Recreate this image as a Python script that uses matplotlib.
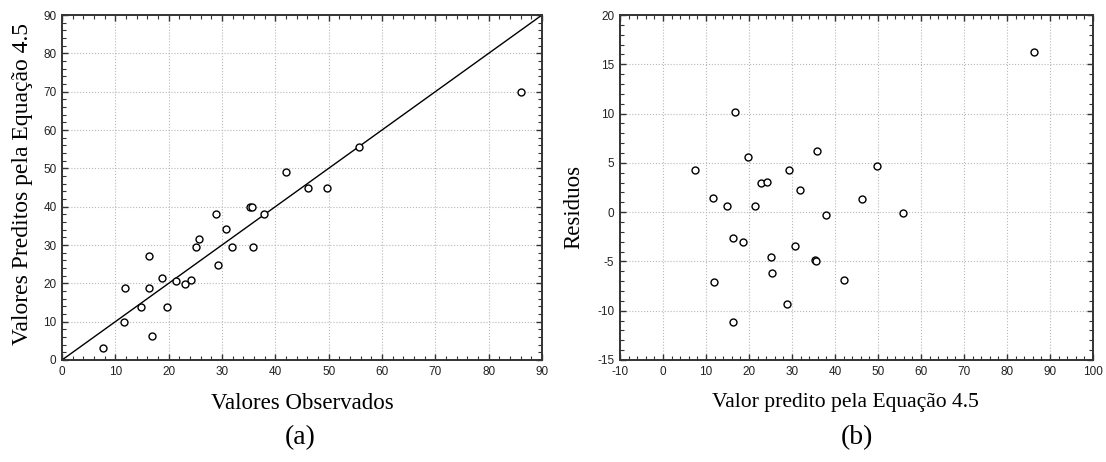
import matplotlib
matplotlib.use("Agg")
import matplotlib.pyplot as plt
from matplotlib.ticker import MultipleLocator

plt.rcParams["axes.unicode_minus"] = False

# (a) observed vs. predicted values
observados = [7.7, 11.6, 11.9, 14.9, 16.4, 16.4, 16.9, 18.8, 19.7, 21.4, 23.1, 24.1,
              25.1, 25.6, 28.8, 29.25, 30.75, 31.9, 35.25, 35.6, 35.8, 37.9, 42.06,
              46.2, 49.7, 55.6, 86.1]
preditos = [3.2, 9.8, 18.7, 13.7, 27.2, 18.7, 6.2, 21.4, 13.8, 20.7, 19.9, 20.8,
            29.4, 31.5, 38.0, 24.8, 34.1, 29.4, 40.0, 40.0, 29.4, 38.0, 49.0,
            45.0, 45.0, 55.6, 69.9]

# (b) residuals
valor_res = [16.8, 7.5, 19.7, 35.7, 49.8, 29.2, 22.9, 24.1, 31.9, 11.6, 14.9, 21.4,
             46.2, 37.9, 55.7, 16.2, 18.6, 30.8, 25.1, 35.4, 35.5, 25.4, 11.9, 42.1,
             28.9, 16.2, 86.2]
residuos = [10.15, 4.27, 5.56, 6.17, 4.71, 4.27, 2.95, 3.09, 2.24, 1.43, 0.58, 0.58,
            1.3, -0.26, -0.12, -2.6, -3.07, -3.44, -4.52, -4.88, -5.0, -6.18, -7.13,
            -6.89, -9.36, -11.1, 16.2]

ident = [0, 90]

fig = plt.figure(figsize=(11.06, 4.62), dpi=100)
ax1 = fig.add_axes([62 / 1106, 1 - 360 / 462, 480 / 1106, 345 / 462])
ax2 = fig.add_axes([620 / 1106, 1 - 360 / 462, 473 / 1106, 345 / 462])

serif = ["Liberation Serif", "DejaVu Serif"]
sans = ["Liberation Sans", "DejaVu Sans"]


def style(ax, xmaj, xmin, ymaj, ymin):
    ax.xaxis.set_major_locator(MultipleLocator(xmaj))
    ax.xaxis.set_minor_locator(MultipleLocator(xmin))
    ax.yaxis.set_major_locator(MultipleLocator(ymaj))
    ax.yaxis.set_minor_locator(MultipleLocator(ymin))
    ax.grid(True, which="major", linestyle=":", color="#b8b8b8", linewidth=0.8)
    ax.set_axisbelow(True)
    ax.tick_params(which="both", direction="in", top=True, right=True,
                   color="#333333")
    ax.tick_params(which="major", length=4, width=1, labelsize=8.5,
                   labelcolor="#222222", pad=4)
    ax.tick_params(which="minor", length=3, width=0.8)
    for lab in ax.get_xticklabels() + ax.get_yticklabels():
        lab.set_family(sans)
    for sp in ax.spines.values():
        sp.set_linewidth(1.4)
        sp.set_color("#333333")


marker_kw = dict(linestyle="none", marker="o", markersize=5, markerfacecolor="white",
                 markeredgecolor="black", markeredgewidth=1.0)

ax1.plot(ident, ident, color="black", linewidth=1.0)
ax1.plot(observados, preditos, **marker_kw)
ax1.set_xlim(0, 90)
ax1.set_ylim(0, 90)
style(ax1, 10, 2, 10, 2)
ax1.set_xlabel("Valores Observados", family=serif, fontsize=16.5)
ax1.xaxis.set_label_coords(0.5, -33 / 345)
ax1.set_ylabel("Valores Preditos pela Equação 4.5", family=serif, fontsize=17)
ax1.yaxis.set_label_coords(-29 / 480, 0.51)

ax2.plot(valor_res, residuos, **marker_kw)
ax2.set_xlim(-10, 100)
ax2.set_ylim(-15, 20)
style(ax2, 10, 2, 5, 1)
ax2.set_xlabel("Valor predito pela Equação 4.5", family=serif, fontsize=15.6)
ax2.xaxis.set_label_coords((845 - 620) / 473, -33 / 345)
ax2.set_ylabel("Residuos", family=serif, fontsize=16.5)
ax2.yaxis.set_label_coords(-36 / 473, (360 - 207) / 345)

fig.text(300 / 1106, 1 - 438 / 462, "(a)", family=serif, fontsize=20,
         ha="center", va="center")
fig.text(857 / 1106, 1 - 438 / 462, "(b)", family=serif, fontsize=20,
         ha="center", va="center")

fig.savefig("out.png", dpi=100)
